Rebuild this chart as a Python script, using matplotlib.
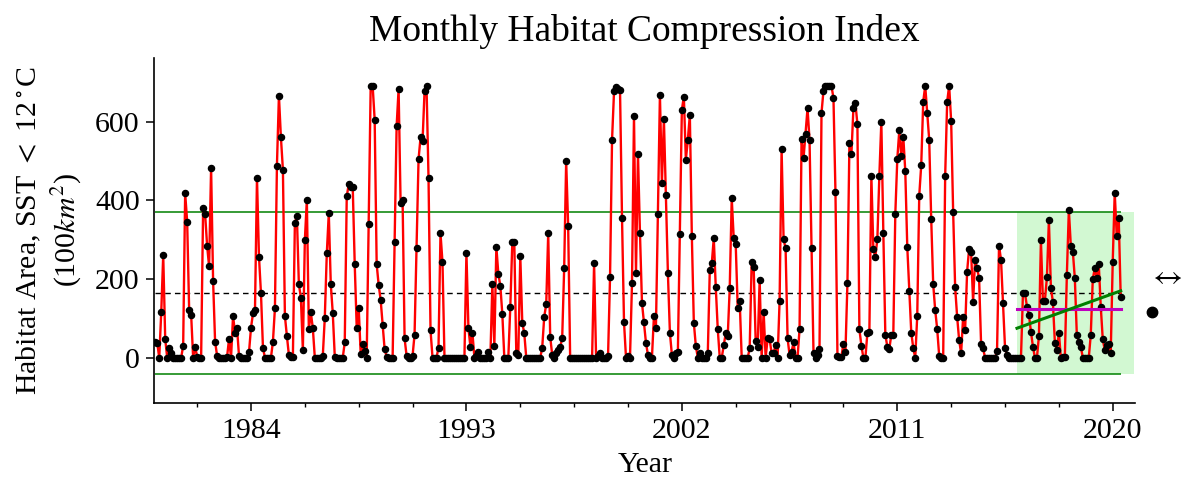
import numpy as np
import matplotlib
matplotlib.use("Agg")
import matplotlib.pyplot as plt
from matplotlib.patches import Rectangle
from matplotlib.lines import Line2D
from matplotlib.ticker import FixedLocator

# ---------------- data (monthly habitat area, 100 km^2) ----------------
start_year = 1980
hci_1980s = [
    40, 38, 0, 115, 261, 47, 0, 24, 11, 0, 0, 0,            # 1980
    0, 0, 31, 418, 346, 121, 109, 0, 28, 3, 0, 0,           # 1981
    380, 365, 285, 232, 483, 196, 41, 5, 0, 0, 0, 0,        # 1982
    2, 48, 0, 106, 64, 76, 4, 0, 0, 0, 0, 14,               # 1983
    76, 113, 121, 458, 257, 164, 25, 0, 0, 0, 0, 41,        # 1984
    126, 488, 666, 560, 478, 106, 55, 7, 3, 2, 342, 361,    # 1985
    187, 153, 20, 299, 401, 72, 115, 75, 0, 0, 0, 0,        # 1986
    5, 102, 265, 367, 187, 113, 3, 0, 0, 0, 0, 39,          # 1987
    410, 441, 435, 435, 238, 76, 126, 9, 34, 18, 0, 340,    # 1988
    690, 690, 605, 238, 185, 147, 83, 21, 3, 0, 0, 0,       # 1989
]
hci_1990s = [
    293, 588, 683, 393, 400, 49, 5, 0, 0, 5, 59, 280,       # 1990
    505, 560, 550, 677, 691, 456, 70, 0, 0, 0, 26, 316,     # 1991
    243, 0, 0, 0, 0, 0, 0, 0, 0, 0, 0, 0,                   # 1992
    267, 75, 28, 64, 0, 5, 15, 0, 0, 0, 0, 15,              # 1993
    0, 187, 31, 282, 213, 183, 111, 0, 0, 0, 130, 293,      # 1994
    293, 11, 8, 259, 89, 62, 0, 0, 0, 0, 0, 0,              # 1995
    0, 0, 26, 104, 136, 316, 53, 7, 0, 11, 20, 28,          # 1996
    49, 227, 500, 335, 0, 0, 0, 0, 0, 0, 0, 0,              # 1997
    0, 0, 0, 0, 240, 0, 5, 13, 0, 0, 0, 5,                  # 1998
    206, 554, 677, 688, 683, 681, 355, 90, 0, 5, 0, 189,    # 1999
]
hci_2000s = [
    615, 215, 517, 316, 140, 90, 38, 7, 0, 0, 106, 75,      # 2000
    365, 668, 444, 606, 414, 215, 64, 7, 0, 11, 14, 314,    # 2001
    630, 664, 503, 554, 617, 310, 89, 30, 0, 11, 0, 0,      # 2002
    0, 11, 223, 240, 304, 179, 72, 0, 0, 32, 62, 55,        # 2003
    178, 405, 304, 288, 126, 145, 0, 0, 0, 0, 24, 244,      # 2004
    230, 42, 28, 198, 0, 117, 0, 49, 47, 11, 13, 32,        # 2005
    0, 145, 530, 301, 278, 49, 7, 15, 39, 0, 0, 73,         # 2006
    556, 507, 569, 634, 554, 278, 11, 0, 7, 22, 622, 679,   # 2007
    690, 691, 691, 691, 660, 421, 5, 3, 3, 36, 14, 189,     # 2008
    545, 517, 634, 647, 594, 72, 31, 0, 0, 62, 66, 462,     # 2009
]
hci_2010s = [
    276, 257, 301, 462, 600, 318, 59, 28, 22, 59, 59, 365,  # 2010
    505, 578, 513, 562, 475, 282, 170, 64, 25, 0, 106, 412, # 2011
    490, 651, 691, 622, 554, 353, 187, 121, 73, 5, 0, 0,    # 2012
    462, 651, 691, 602, 371, 179, 104, 45, 11, 104, 70, 219,# 2013
    277, 270, 142, 249, 227, 202, 36, 24, 0, 0, 0, 0,       # 2014
    0, 0, 17, 285, 249, 140, 26, 7, 0, 0, 0, 0,             # 2015
    0, 0, 0, 164, 164, 130, 109, 66, 28, 0, 0, 55,          # 2016
    299, 145, 145, 204, 350, 178, 142, 38, 20, 64, 0, 3,    # 2017
    3, 210, 376, 284, 270, 202, 58, 41, 28, 0, 0, 0,        # 2018
    0, 59, 200, 227, 202, 238, 130, 47, 20, 32, 36, 13,     # 2019
]
hci_2020s = [244, 420, 310, 356, 155]                       # 2020 (Jan-May)

# reference levels
mean_level = 165          # long-term mean (dashed)
upper_level = 370         # mean + 1 sd (green)
lower_level = -42         # mean - 1 sd (green)
recent_start = 2016.0     # start of recent window
shade_end = 2020.9
recent_mean = 125         # recent-window mean (magenta)
trend_start_val = 75      # recent trend (green)
trend_end_val = 170

year_ticks = [1984, 1993, 2002, 2011, 2020]
year_labels = ["1984", "1993", "2002", "2011", "2020"]
y_ticks = [0, 200, 400, 600]

values = np.array(hci_1980s + hci_1990s + hci_2000s + hci_2010s + hci_2020s, float)
t = start_year + np.arange(values.size) / 12.0

# ---------------- figure ----------------
plt.rcParams['font.family'] = ['Liberation Serif', 'DejaVu Serif']
plt.rcParams['mathtext.fontset'] = 'stix'

fig = plt.figure(figsize=(11.85, 4.79), dpi=100)
ax = fig.add_axes([0.1302, 0.1587, 0.8278, 0.7203])

ax.add_patch(Rectangle((recent_start, lower_level), shade_end - recent_start,
                       upper_level - lower_level, facecolor='lightgreen',
                       alpha=0.4, edgecolor='none', zorder=0))
ax.hlines([upper_level, lower_level], t[0], t[-1], colors='green', lw=1.1, zorder=1)
ax.hlines(mean_level, t[0], t[-1], colors='black', linestyles=(0, (4, 3)), lw=1.0, zorder=1)

ax.plot(t, values, color='red', lw=1.7, zorder=3)
ax.plot(t, values, 'o', color='black', ms=4.4, zorder=4)

ax.plot([recent_start, t[-1]], [recent_mean, recent_mean], color='m', lw=2.2, zorder=5)
ax.plot([recent_start, t[-1]], [trend_start_val, trend_end_val], color='green', lw=2.2, zorder=5)

ax.set_xlim(1979.96, 2020.94)
ax.set_ylim(-115, 762)
ax.set_xticks(year_ticks)
ax.set_xticklabels(year_labels)
minor = [v for v in np.arange(1981.75, 2021, 2.25) if v not in year_ticks]
ax.xaxis.set_minor_locator(FixedLocator(minor))
ax.set_yticks(y_ticks)

for s in ['top', 'right']:
    ax.spines[s].set_visible(False)
for s in ['left', 'bottom']:
    ax.spines[s].set_linewidth(1.2)

ax.tick_params(axis='both', which='major', direction='out', length=5.5, width=1.1,
               labelsize=21.5, pad=5)
ax.tick_params(axis='x', which='minor', direction='out', length=3, width=1.0)

ax.set_xlabel('Year', fontsize=21.5, labelpad=6)
ax.set_ylabel('Habitat Area, SST $<$ 12$^\\circ$C\n(100$km^2$)', fontsize=21.5,
              linespacing=1.25, labelpad=8)
ax.set_title('Monthly Habitat Compression Index', fontsize=27, pad=12)

# legend handles outside the axes (labels fall outside the canvas)
fig.text(1166 / 1185, 1 - 277 / 479, '$\\leftrightarrow$', fontsize=22,
         ha='center', va='center')
fig.add_artist(Line2D([1152 / 1185], [1 - 312 / 479], marker='o', color='black',
                      ms=7.5, transform=fig.transFigure))

fig.savefig('out.png', dpi=100)
